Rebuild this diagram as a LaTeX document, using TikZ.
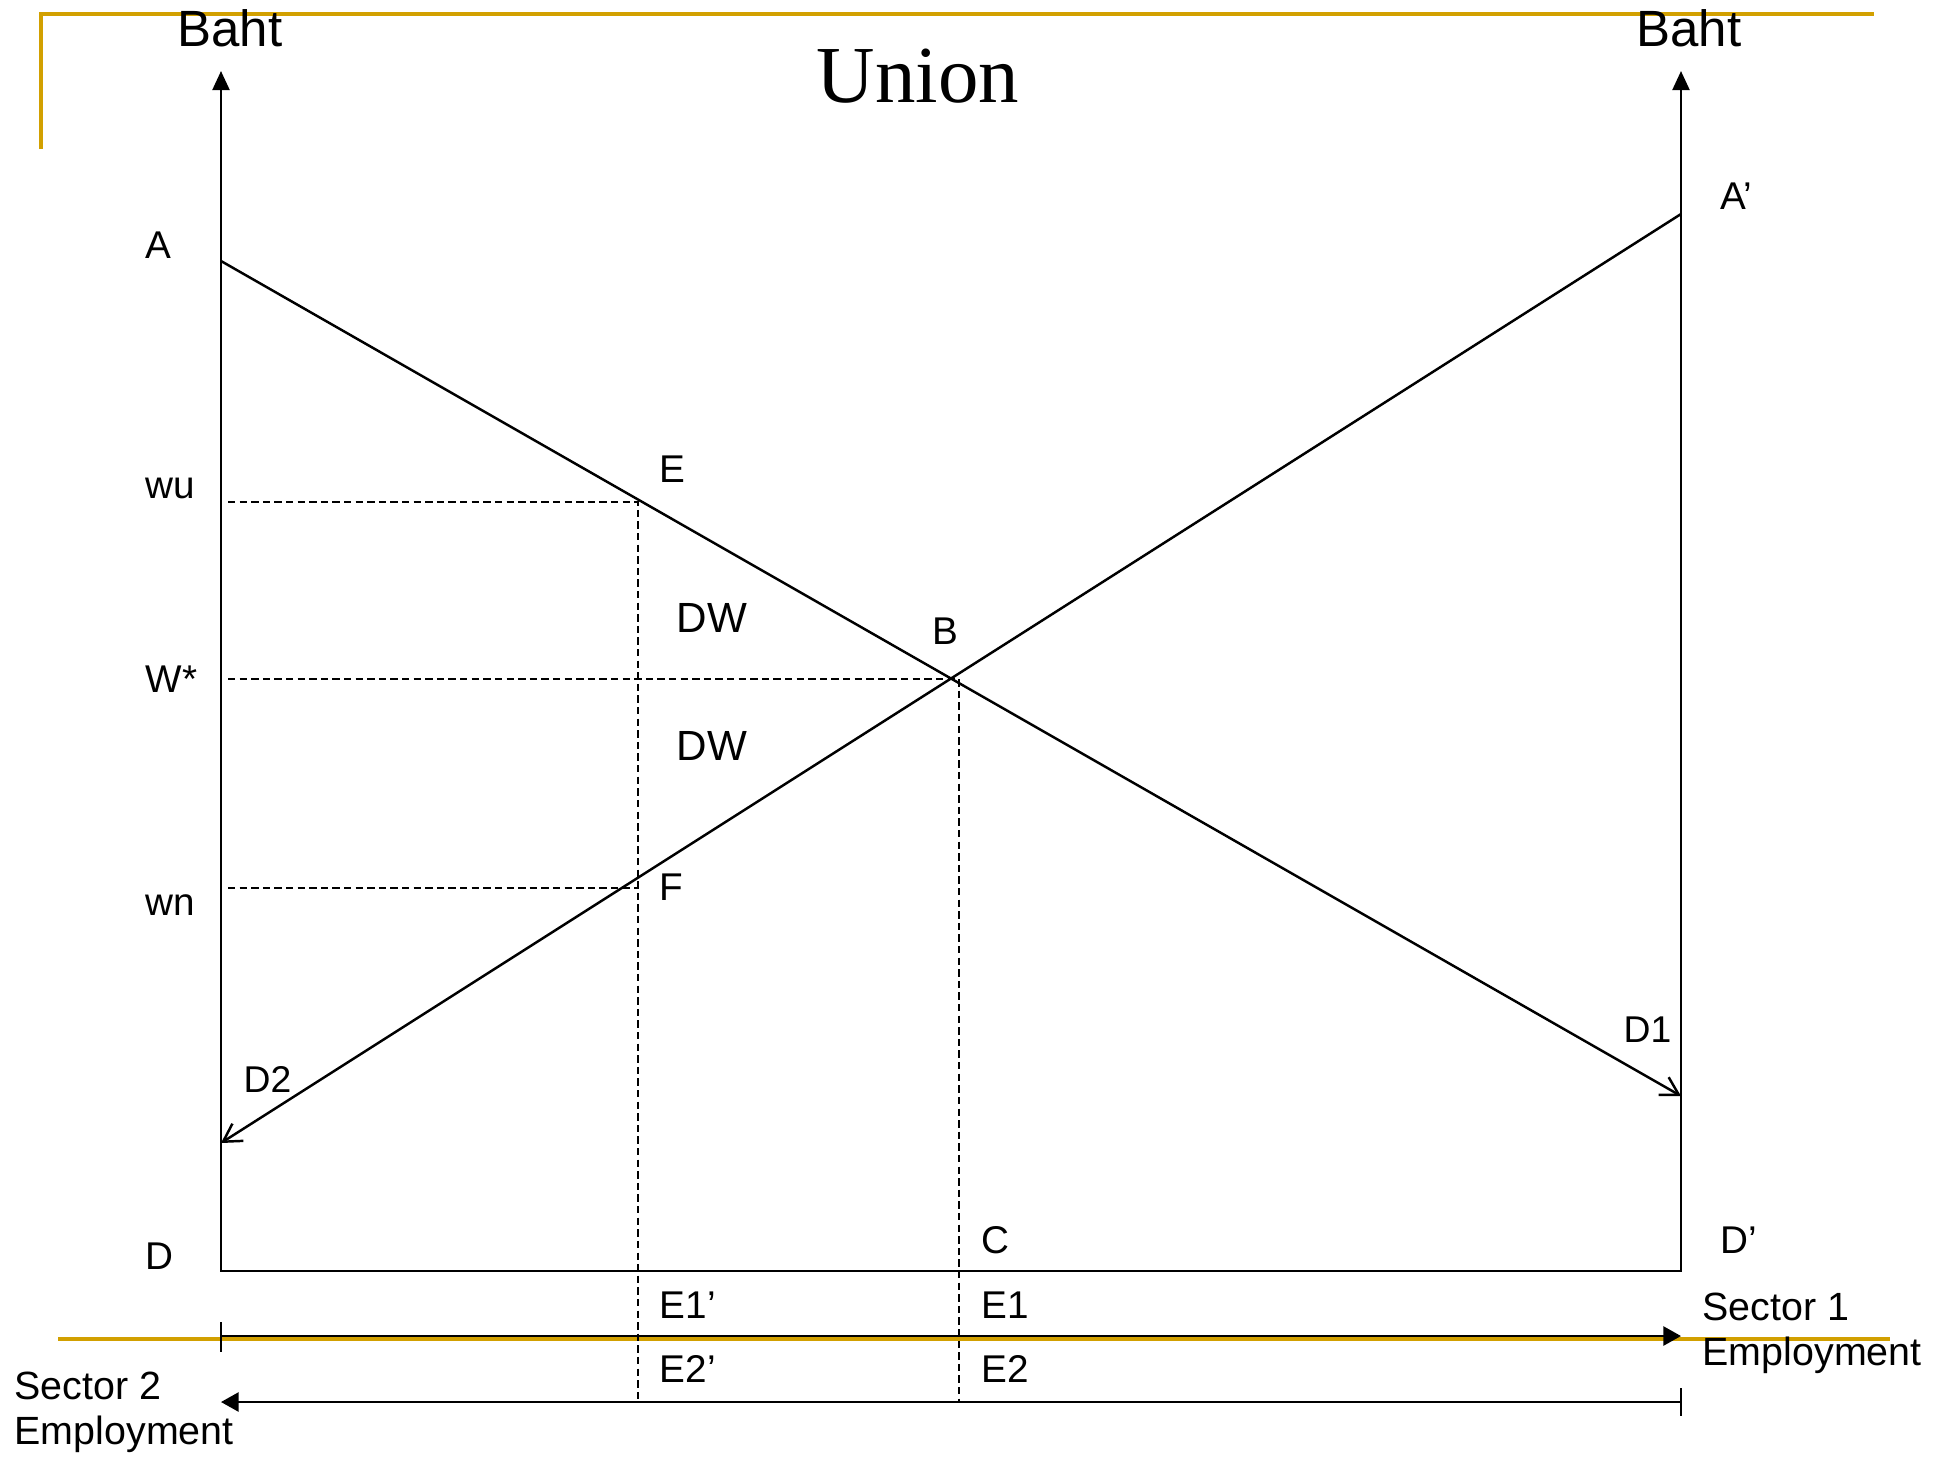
\documentclass[tikz,border=0pt]{standalone}
\usepackage{fontspec}
\setmainfont{Liberation Sans}
\newfontfamily\unionfont{Liberation Serif}
\usetikzlibrary{arrows.meta}
\definecolor{gold}{RGB}{210,160,0}
\tikzset{axtip/.tip={Triangle[length=5.4pt,width=4.8pt]}}
\begin{document}
\begin{tikzpicture}[x=0.01cm,y=-0.01cm,
  axisline/.style={line width=0.7pt, line join=miter},
  guide/.style={line width=0.65pt, dash pattern=on 2.1pt off 1.2pt},
  goldline/.style={draw=gold, line width=1.2pt, line join=miter},
  curve/.style={line width=0.7pt, -{Straight Barb[length=5pt,width=5.8pt,line width=0.7pt]}},
  lab/.style={inner sep=0pt, font=\fontsize{11}{13}\selectfont},
  dwlab/.style={inner sep=0pt, font=\fontsize{12}{14}\selectfont},
  dlab/.style={inner sep=0pt, font=\fontsize{10.6}{13}\selectfont},
  bahtlab/.style={inner sep=0pt, font=\fontsize{14.5}{17}\selectfont},
  seclab/.style={inner sep=0pt, align=left, font=\fontsize{11.2}{12.9}\selectfont}
]
\useasboundingbox (0,0) rectangle (1950,1459);

% frame decoration
\coordinate (g1) at (41,149);
\coordinate (g2) at (41,14);
\coordinate (g3) at (1874,14);
\coordinate (g4) at (58,1339);
\coordinate (g5) at (1890,1339);
\draw[goldline] (g1) -- (g2) -- (g3);
\draw[goldline] (g4) -- (g5);

% axes
\coordinate (O) at (221,1271);
\coordinate (Otop) at (221,71);
\coordinate (R) at (1681,1271);
\coordinate (Rtop) at (1681,71);
\draw[axisline, axtip-axtip] (Otop) -- (O) -- (R) -- (Rtop);

% curves
\coordinate (Apt) at (221,261);
\coordinate (D1end) at (1681,1096);
\coordinate (Appt) at (1681,214);
\coordinate (D2end) at (221,1143);
\draw[curve] (Apt) -- (D1end);
\draw[curve] (Appt) -- (D2end);

% guides
\coordinate (wuL) at (228,502);
\coordinate (Ec) at (638,502);
\coordinate (Eb) at (638,1402);
\coordinate (wsL) at (228,679);
\coordinate (Bc) at (959,679);
\coordinate (Cb) at (959,1402);
\coordinate (wnL) at (228,888);
\coordinate (Fc) at (638,888);
\draw[guide] (wuL) -- (Ec) -- (Eb);
\draw[guide] (wsL) -- (Bc) -- (Cb);
\draw[guide] (wnL) -- (Fc);

% employment arrows
\coordinate (s1a) at (221,1336);
\coordinate (s1b) at (1681,1336);
\coordinate (t1a) at (221,1322);
\coordinate (t1b) at (221,1352);
\draw[axisline, -{Triangle[length=5pt,width=5.4pt]}] (s1a) -- (s1b);
\draw[axisline] (t1a) -- (t1b);
\coordinate (s2a) at (1681,1402);
\coordinate (s2b) at (221,1402);
\coordinate (t2a) at (1681,1388);
\coordinate (t2b) at (1681,1416);
\draw[axisline, -{Triangle[length=5pt,width=5.4pt]}] (s2a) -- (s2b);
\draw[axisline] (t2a) -- (t2b);

% labels
\node[bahtlab] (baht1) at (230,28) {Baht};
\node[bahtlab] (baht2) at (1689,28) {Baht};
\node[inner sep=0pt, font=\unionfont\fontsize{23}{26}\selectfont, anchor=base] (union) at (918,102) {Union};
\node[lab, anchor=west] (lA) at (145,245) {A};
\node[lab, anchor=west] (lAp) at (1720,196) {A’};
\node[lab, anchor=west] (lwu) at (145,488) {wu};
\node[lab, anchor=west] (lws) at (145,679) {W*};
\node[lab, anchor=west] (lwn) at (145,905) {wn};
\node[lab, anchor=west] (lD) at (145,1256) {D};
\node[lab, anchor=west] (lE) at (659,469) {E};
\node[lab, anchor=west] (lF) at (659,887) {F};
\node[lab] (lB) at (945,631) {B};
\node[dwlab, anchor=west] (dw1) at (676,618) {DW};
\node[dwlab, anchor=west] (dw2) at (676,746) {DW};
\node[lab, anchor=west] (lC) at (981,1240) {C};
\node[lab, anchor=west] (lDp) at (1720,1240) {D’};
\node[dlab, anchor=west] (lD1) at (1623,1030) {D1};
\node[dlab, anchor=west] (lD2) at (243,1079) {D2};
\node[lab, anchor=west] (lE1p) at (659,1305) {E1’};
\node[lab, anchor=west] (lE1) at (981,1305) {E1};
\node[lab, anchor=west] (lE2p) at (659,1369) {E2’};
\node[lab, anchor=west] (lE2) at (981,1369) {E2};
\node[seclab, anchor=north west] (sec1) at (1702,1292) {Sector 1\\Employment};
\node[seclab, anchor=north west] (sec2) at (14,1371) {Sector 2\\Employment};
\end{tikzpicture}
\end{document}
